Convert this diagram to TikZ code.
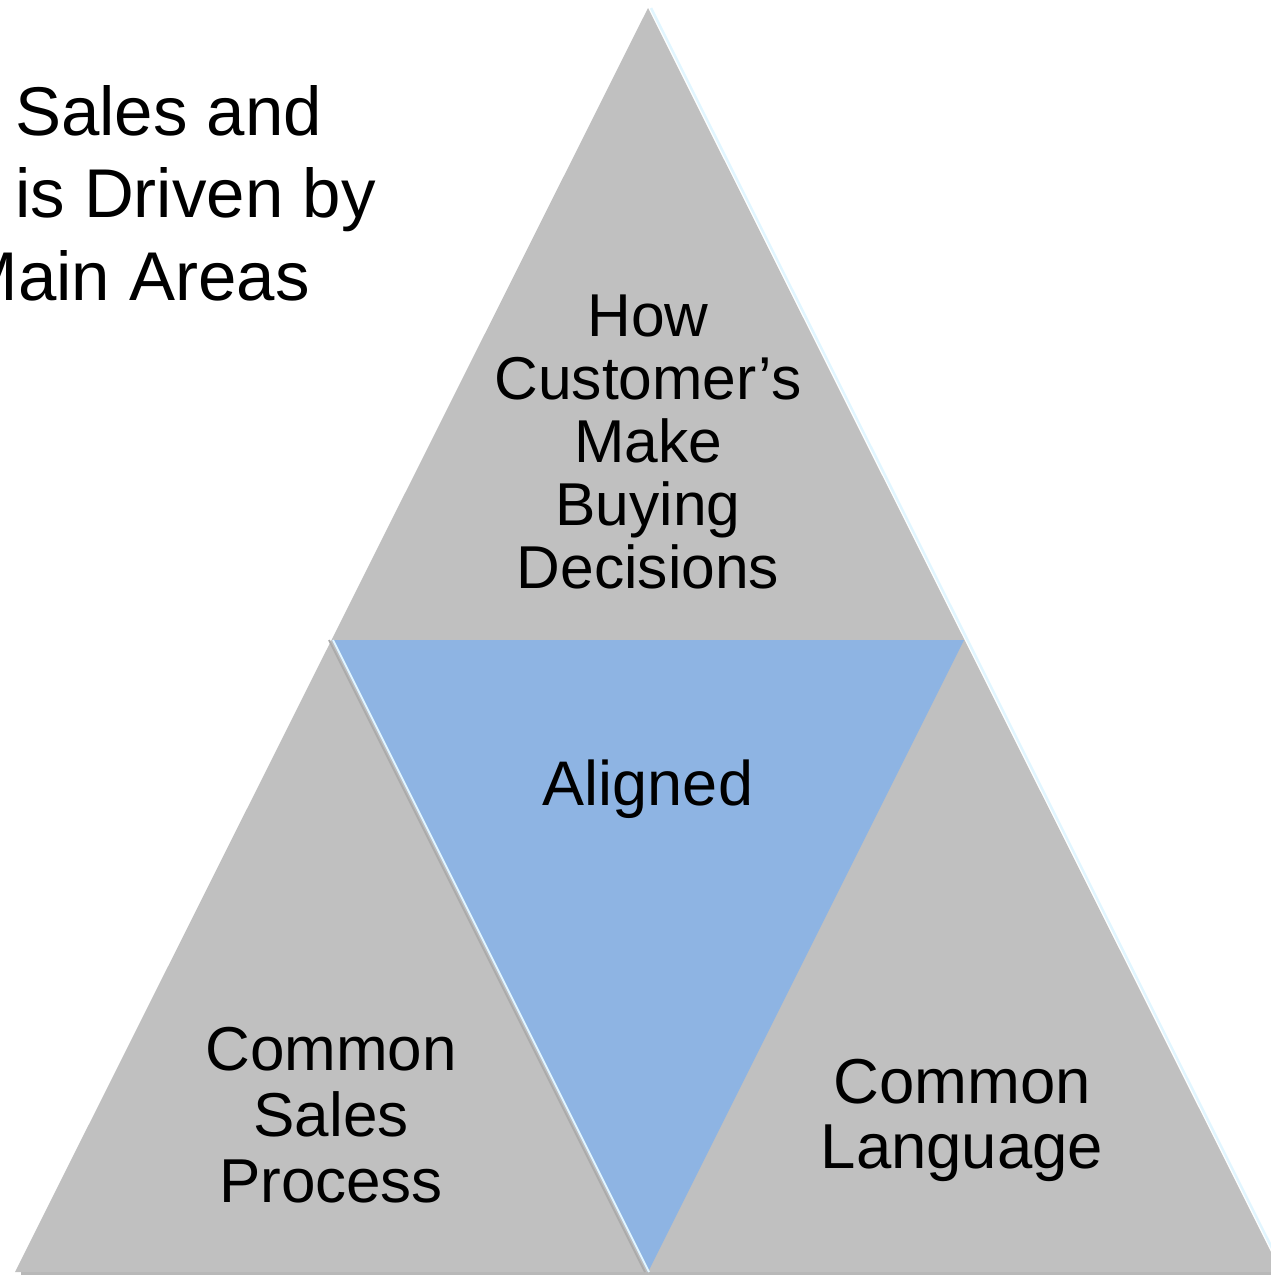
\documentclass[tikz,border=0pt]{standalone}
\usepackage{fontspec}
\setmainfont{Liberation Sans}
\definecolor{tri}{HTML}{C0C0C0}
\definecolor{mid}{HTML}{8EB4E3}
\definecolor{glint}{HTML}{E2F6FF}
\definecolor{edgegray}{HTML}{ABABAB}
\definecolor{basegray}{HTML}{B8B8B8}

\begin{document}
\begin{tikzpicture}[x=1pt,y=-1pt,
  txt/.style={inner sep=0,align=center,font=\fontsize{62}{65}\selectfont},
  head/.style={inner sep=0,font=\fontsize{69}{83}\selectfont}]
  \useasboundingbox (0,0) rectangle (1270,1275);
  \coordinate (tp) at (648,8);
  \coordinate (ml) at (332,640);
  \coordinate (mr) at (964,640);
  \coordinate (bl) at (15,1272);
  \coordinate (bm) at (648,1272);
  \coordinate (br) at (1281,1272);

  \fill[tri] (tp) -- (bl) -- (br) -- cycle;
  \fill[mid] (ml) -- (mr) -- (bm) -- cycle;
  % bevel lines
  \draw[glint,line width=2.5] ([xshift=3pt]tp) -- ([xshift=3pt]br);
  \draw[basegray,line width=6] ([shift={(6pt,-3pt)}]bl) -- ([shift={(-6pt,-3pt)}]br);
  \draw[edgegray,line width=2] ([xshift=-3pt]ml) -- ([xshift=-3pt]bm);
  \draw[glint,line width=2] ([xshift=1pt]ml) -- ([xshift=1pt]bm);

  \node[head,anchor=base west] (t1) at (15,135) {Sales and};
  \node[head,anchor=base west] (t2) at (15,217) {is Driven by};
  \node[head,anchor=base east] (t3) at (310,300) {Main Areas};

  % base of a multi-line node is its last line
  \node[txt,anchor=base,font=\fontsize{60.5}{63}\selectfont] (how) at (648,588) {How\\Customer’s\\Make\\Buying\\Decisions};
  \node[txt,anchor=base,font=\fontsize{63}{65}\selectfont] (al) at (648,805) {Aligned};
  \node[txt,anchor=base,font=\fontsize{62}{66}\selectfont] (csp) at (331,1202) {Common\\Sales\\Process};
  \node[txt,anchor=base,font=\fontsize{63.5}{65}\selectfont] (cl) at (962,1168) {Common\\Language};
\end{tikzpicture}
\end{document}
